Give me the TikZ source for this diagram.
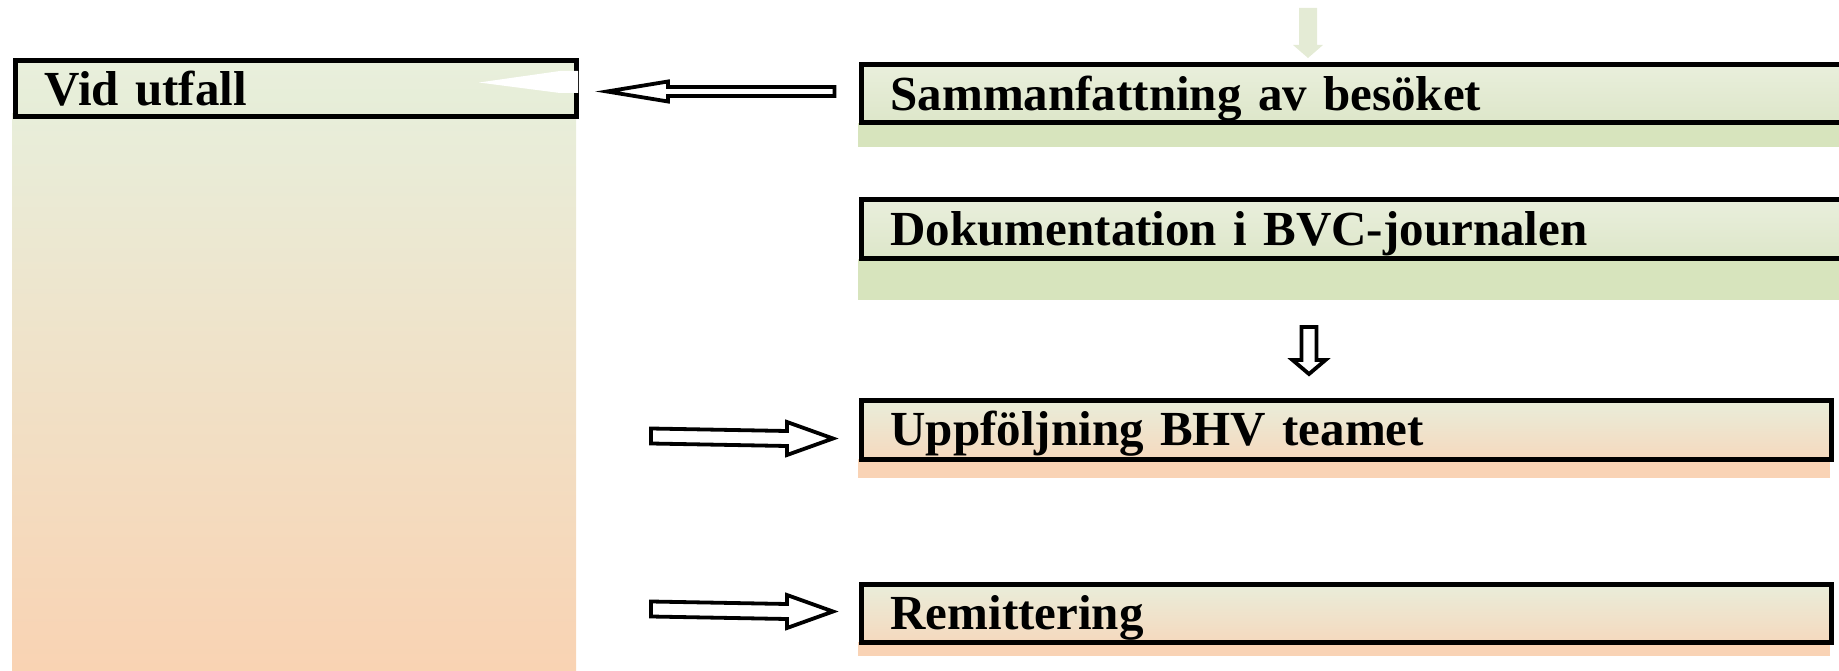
\documentclass[tikz,border=0pt]{standalone}
\usepackage{fontspec}
\setmainfont{Liberation Serif}
\usetikzlibrary{calc}
\definecolor{gtop}{HTML}{E9EFDC}
\definecolor{gbot}{HTML}{DDE6C9}
\definecolor{gband}{HTML}{D7E4BD}
\definecolor{vbot}{HTML}{E6EDD7}
\definecolor{ptop}{HTML}{E9EDDA}
\definecolor{pbot}{HTML}{F5D9BE}
\definecolor{pband}{HTML}{F9D3B5}
\definecolor{ctop}{HTML}{E8EEDA}
\definecolor{cbot}{HTML}{F9D3B3}
\definecolor{faint}{HTML}{E4EBD5}
\begin{document}
\begin{tikzpicture}[x=0.5pt,y=0.5pt,
  box/.style={draw=black, line width=2.5pt, anchor=north west, inner xsep=14.75pt, inner ysep=0pt,
    text height=16.2pt, text depth=0pt, align=left, font=\fontsize{24.5pt}{29pt}\selectfont\bfseries},
  vidbox/.style={box, top color=gtop, bottom color=vbot},
  greenbox/.style={box, top color=gtop, bottom color=gbot},
  peachbox/.style={box, top color=ptop, bottom color=pbot},
  hollow/.style={draw=black, line width=1.9pt, fill=white, line join=miter},
  faintarrow/.style={fill=faint, draw=none},
]
\useasboundingbox (0,0) rectangle (1839,670);
\clip (0,0) rectangle (1839,670);

% left column
\shade[top color=ctop, bottom color=cbot] (12,0) rectangle (576,556);

% shadow bands
\fill[gband] (858,547) rectangle (1860,523);
\fill[gband] (858,411) rectangle (1860,370);
\fill[pband] (858,211) rectangle (1830,192);
\fill[pband] (858,28) rectangle (1830,14);

% boxes
\node[vidbox, minimum width=280.5pt, minimum height=28pt, text width=251pt] (vid) at (12.5,611.5) {Vid utfall};
\node[greenbox, minimum width=499.5pt, minimum height=29pt, text width=470pt] (sam) at (858.5,607.5) {Sammanfattning av besöket};
\node[greenbox, minimum width=499.5pt, minimum height=29.5pt, text width=470pt] (dok) at (858.5,472.5) {Dokumentation i BVC-journalen};
\node[peachbox, minimum width=485pt, minimum height=29.5pt, text width=455.5pt] (upp) at (858.5,272.5) {Uppföljning BHV teamet};
\node[peachbox, minimum width=485pt, minimum height=29pt, text width=455.5pt] (rem) at (858.5,88.5) {Remittering};

% white artefact inside Vid utfall
\fill[white] (479,587.5) -- (560,599) -- (578,599) -- (578,577) -- (560,577) -- cycle;

% faint arrow into Sammanfattning
\coordinate (t0s) at (1308,662);
\coordinate (t0e) at ($(sam.north west)+(449.5,4.5)$);
\fill[faintarrow] ($(t0s)+(-9,0)$) -- ($(t0e)+(-9,13)$) -- ($(t0e)+(-15,13)$) -- (t0e)
  -- ($(t0e)+(15,13)$) -- ($(t0e)+(9,13)$) -- ($(t0s)+(9,0)$) -- cycle;

% left arrow: Sammanfattning -> Vid utfall
\coordinate (a1s) at ($(sam.west)+(-24,2.5)$);
\coordinate (a1e) at ($(vid.east)+(28.5,-2.5)$);
\draw[hollow] ($(a1s)+(0,4.5)$) -- ($(a1e)+(61,4.5)$) -- ($(a1e)+(61,10)$) -- (a1e)
  -- ($(a1e)+(61,-10)$) -- ($(a1e)+(61,-4.5)$) -- ($(a1s)+(0,-4.5)$) -- cycle;

% down arrow: Dokumentation -> Uppfoljning
\coordinate (d1s) at ($(dok.south west)+(450.5,-65.5)$);
\coordinate (d1e) at ($(upp.north west)+(450.5,23.5)$);
\draw[hollow] ($(d1s)+(-7.5,0)$) -- ($(d1e)+(-7.5,14)$) -- ($(d1e)+(-16.5,14)$) -- (d1e)
  -- ($(d1e)+(16.5,14)$) -- ($(d1e)+(7.5,14)$) -- ($(d1s)+(7.5,0)$) -- cycle;

% right arrows into Uppfoljning and Remittering
\coordinate (r1s) at (651,234);
\coordinate (r1e) at ($(upp.west)+(-25.5,-9)$);
\draw[hollow] ($(r1s)+(0,7.5)$) -- ($(r1e)+(-46,7.5)$) -- ($(r1e)+(-46,16.5)$) -- (r1e)
  -- ($(r1e)+(-46,-16.5)$) -- ($(r1e)+(-46,-7.5)$) -- ($(r1s)+(0,-7.5)$) -- cycle;

\coordinate (r2s) at (651,61);
\coordinate (r2e) at ($(rem.west)+(-25.5,1.5)$);
\draw[hollow] ($(r2s)+(0,7.5)$) -- ($(r2e)+(-46,7.5)$) -- ($(r2e)+(-46,16.5)$) -- (r2e)
  -- ($(r2e)+(-46,-16.5)$) -- ($(r2e)+(-46,-7.5)$) -- ($(r2s)+(0,-7.5)$) -- cycle;
\end{tikzpicture}
\end{document}
